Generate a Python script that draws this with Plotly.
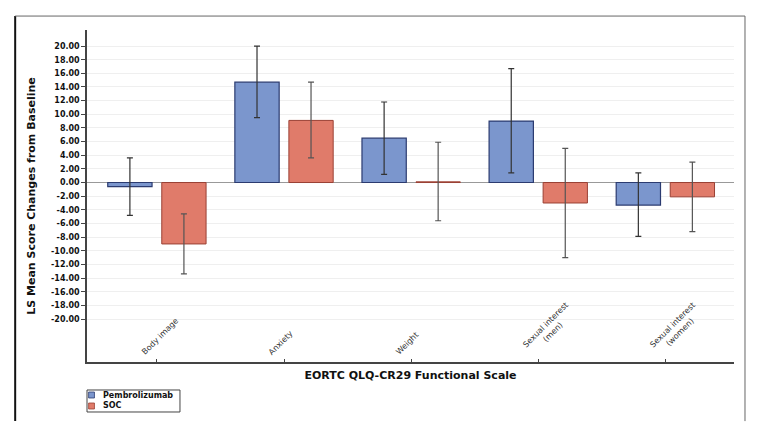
import plotly.graph_objects as go

# EORTC QLQ-CR29 functional scales, LS mean change from baseline (95% CI)
categories = ["Body image", "Anxiety", "Weight", "Sexual interest (men)", "Sexual interest (women)"]
tick_text = ["Body image", "Anxiety", "Weight", "Sexual interest<br>(men)", "Sexual interest<br>(women)"]

pembro_mean = [-0.6, 14.7, 6.5, 9.0, -3.3]
pembro_low = [-4.8, 9.5, 1.2, 1.4, -7.9]
pembro_high = [3.6, 20.0, 11.8, 16.7, 1.4]

soc_mean = [-9.0, 9.1, 0.1, -3.0, -2.1]
soc_low = [-13.4, 3.6, -5.6, -11.0, -7.2]
soc_high = [-4.6, 14.7, 5.9, 5.0, 3.0]

series_names = ["Pembrolizumab", "SOC"]
y_ticks = list(range(-20, 21, 2))

BLUE = "#7b96cd"
RED = "#e07b6a"
BLUE_EDGE = "#2b3b70"
RED_EDGE = "#9a4034"


def err(mean, low, high, color):
    return dict(
        type="data",
        array=[h - m for m, h in zip(mean, high)],
        arrayminus=[m - l for m, l in zip(mean, low)],
        color=color, thickness=1.2, width=3,
    )


fig = go.Figure()
fig.add_trace(go.Bar(
    x=categories, y=pembro_mean, name=series_names[0],
    marker=dict(color=BLUE, line=dict(color=BLUE_EDGE, width=1.2)),
    error_y=err(pembro_mean, pembro_low, pembro_high, "#333333"),
))
fig.add_trace(go.Bar(
    x=categories, y=soc_mean, name=series_names[1],
    marker=dict(color=RED, line=dict(color=RED_EDGE, width=1)),
    error_y=err(soc_mean, soc_low, soc_high, "#555555"),
))

# category labels sit inside the plot, above the axis, rotated
for cat, txt in zip(categories, tick_text):
    fig.add_annotation(
        x=cat, y=0, xref="x", yref="paper", text=txt, showarrow=False,
        textangle=-45, xanchor="left", yanchor="bottom", xshift=-20, yshift=3,
        font=dict(family="DejaVu Sans", size=8, color="#333333"),
    )

# small boxed legend under the axis
fig.add_shape(type="rect", xref="paper", yref="paper", x0=0, x1=0.1437,
              y0=-0.1506, y1=-0.0843, line=dict(color="#444444", width=1),
              fillcolor="white")
for (name, fill, edge, y0, y1, yt) in [
    (series_names[0], BLUE, BLUE_EDGE, -0.1084, -0.0904, -0.0994),
    (series_names[1], RED, RED_EDGE, -0.1416, -0.1235, -0.1325),
]:
    fig.add_shape(type="rect", xref="paper", yref="paper", x0=0.0025, x1=0.0115,
                  y0=y0, y1=y1, fillcolor=fill, line=dict(color=edge, width=0.8))
    fig.add_annotation(x=0.0216, y=yt, xref="paper", yref="paper", text=name,
                       showarrow=False, xanchor="left", yanchor="middle",
                       font=dict(size=8, weight="bold", color="#111111"))

# page frame
fig.add_shape(type="line", xref="paper", yref="paper", x0=-0.111, x1=-0.111,
              y0=-0.178, y1=1.042, line=dict(color="#111111", width=2))
fig.add_shape(type="line", xref="paper", yref="paper", x0=-0.111, x1=1.017,
              y0=1.042, y1=1.042, line=dict(color="#666666", width=1))
fig.add_shape(type="line", xref="paper", yref="paper", x0=1.017, x1=1.017,
              y0=1.042, y1=-0.178, line=dict(color="#666666", width=1))

fig.update_layout(
    width=765, height=435,
    margin=dict(l=79, r=39, t=22, b=81),
    paper_bgcolor="white", plot_bgcolor="white",
    barmode="group", bargap=0.15, bargroupgap=0.18,
    font=dict(family="DejaVu Sans", color="#111111"),
    showlegend=False,
    xaxis=dict(
        range=[-0.55, 4.54], showticklabels=False, automargin=False,
        ticks="inside", ticklen=3, tickcolor="#444444",
        showline=True, linecolor="#444444", linewidth=1.5,
        showgrid=False, zeroline=False,
        title=dict(text="EORTC QLQ-CR29 Functional Scale", standoff=9,
                   font=dict(size=11, weight="bold")),
    ),
    yaxis=dict(
        range=[-26.3, 22.35], tickvals=y_ticks, automargin=False,
        ticktext=[f"{v:.2f}" for v in y_ticks],
        tickfont=dict(size=8, weight="bold"),
        ticks="outside", ticklen=4, tickcolor="#444444",
        showline=True, linecolor="#444444", linewidth=1.5,
        showgrid=True, gridcolor="#efefef",
        zeroline=True, zerolinecolor="#999999", zerolinewidth=1,
        title=dict(text="LS Mean Score Changes from Baseline", standoff=13,
                   font=dict(size=11, weight="bold")),
    ),
)

fig.write_html("out.html")
